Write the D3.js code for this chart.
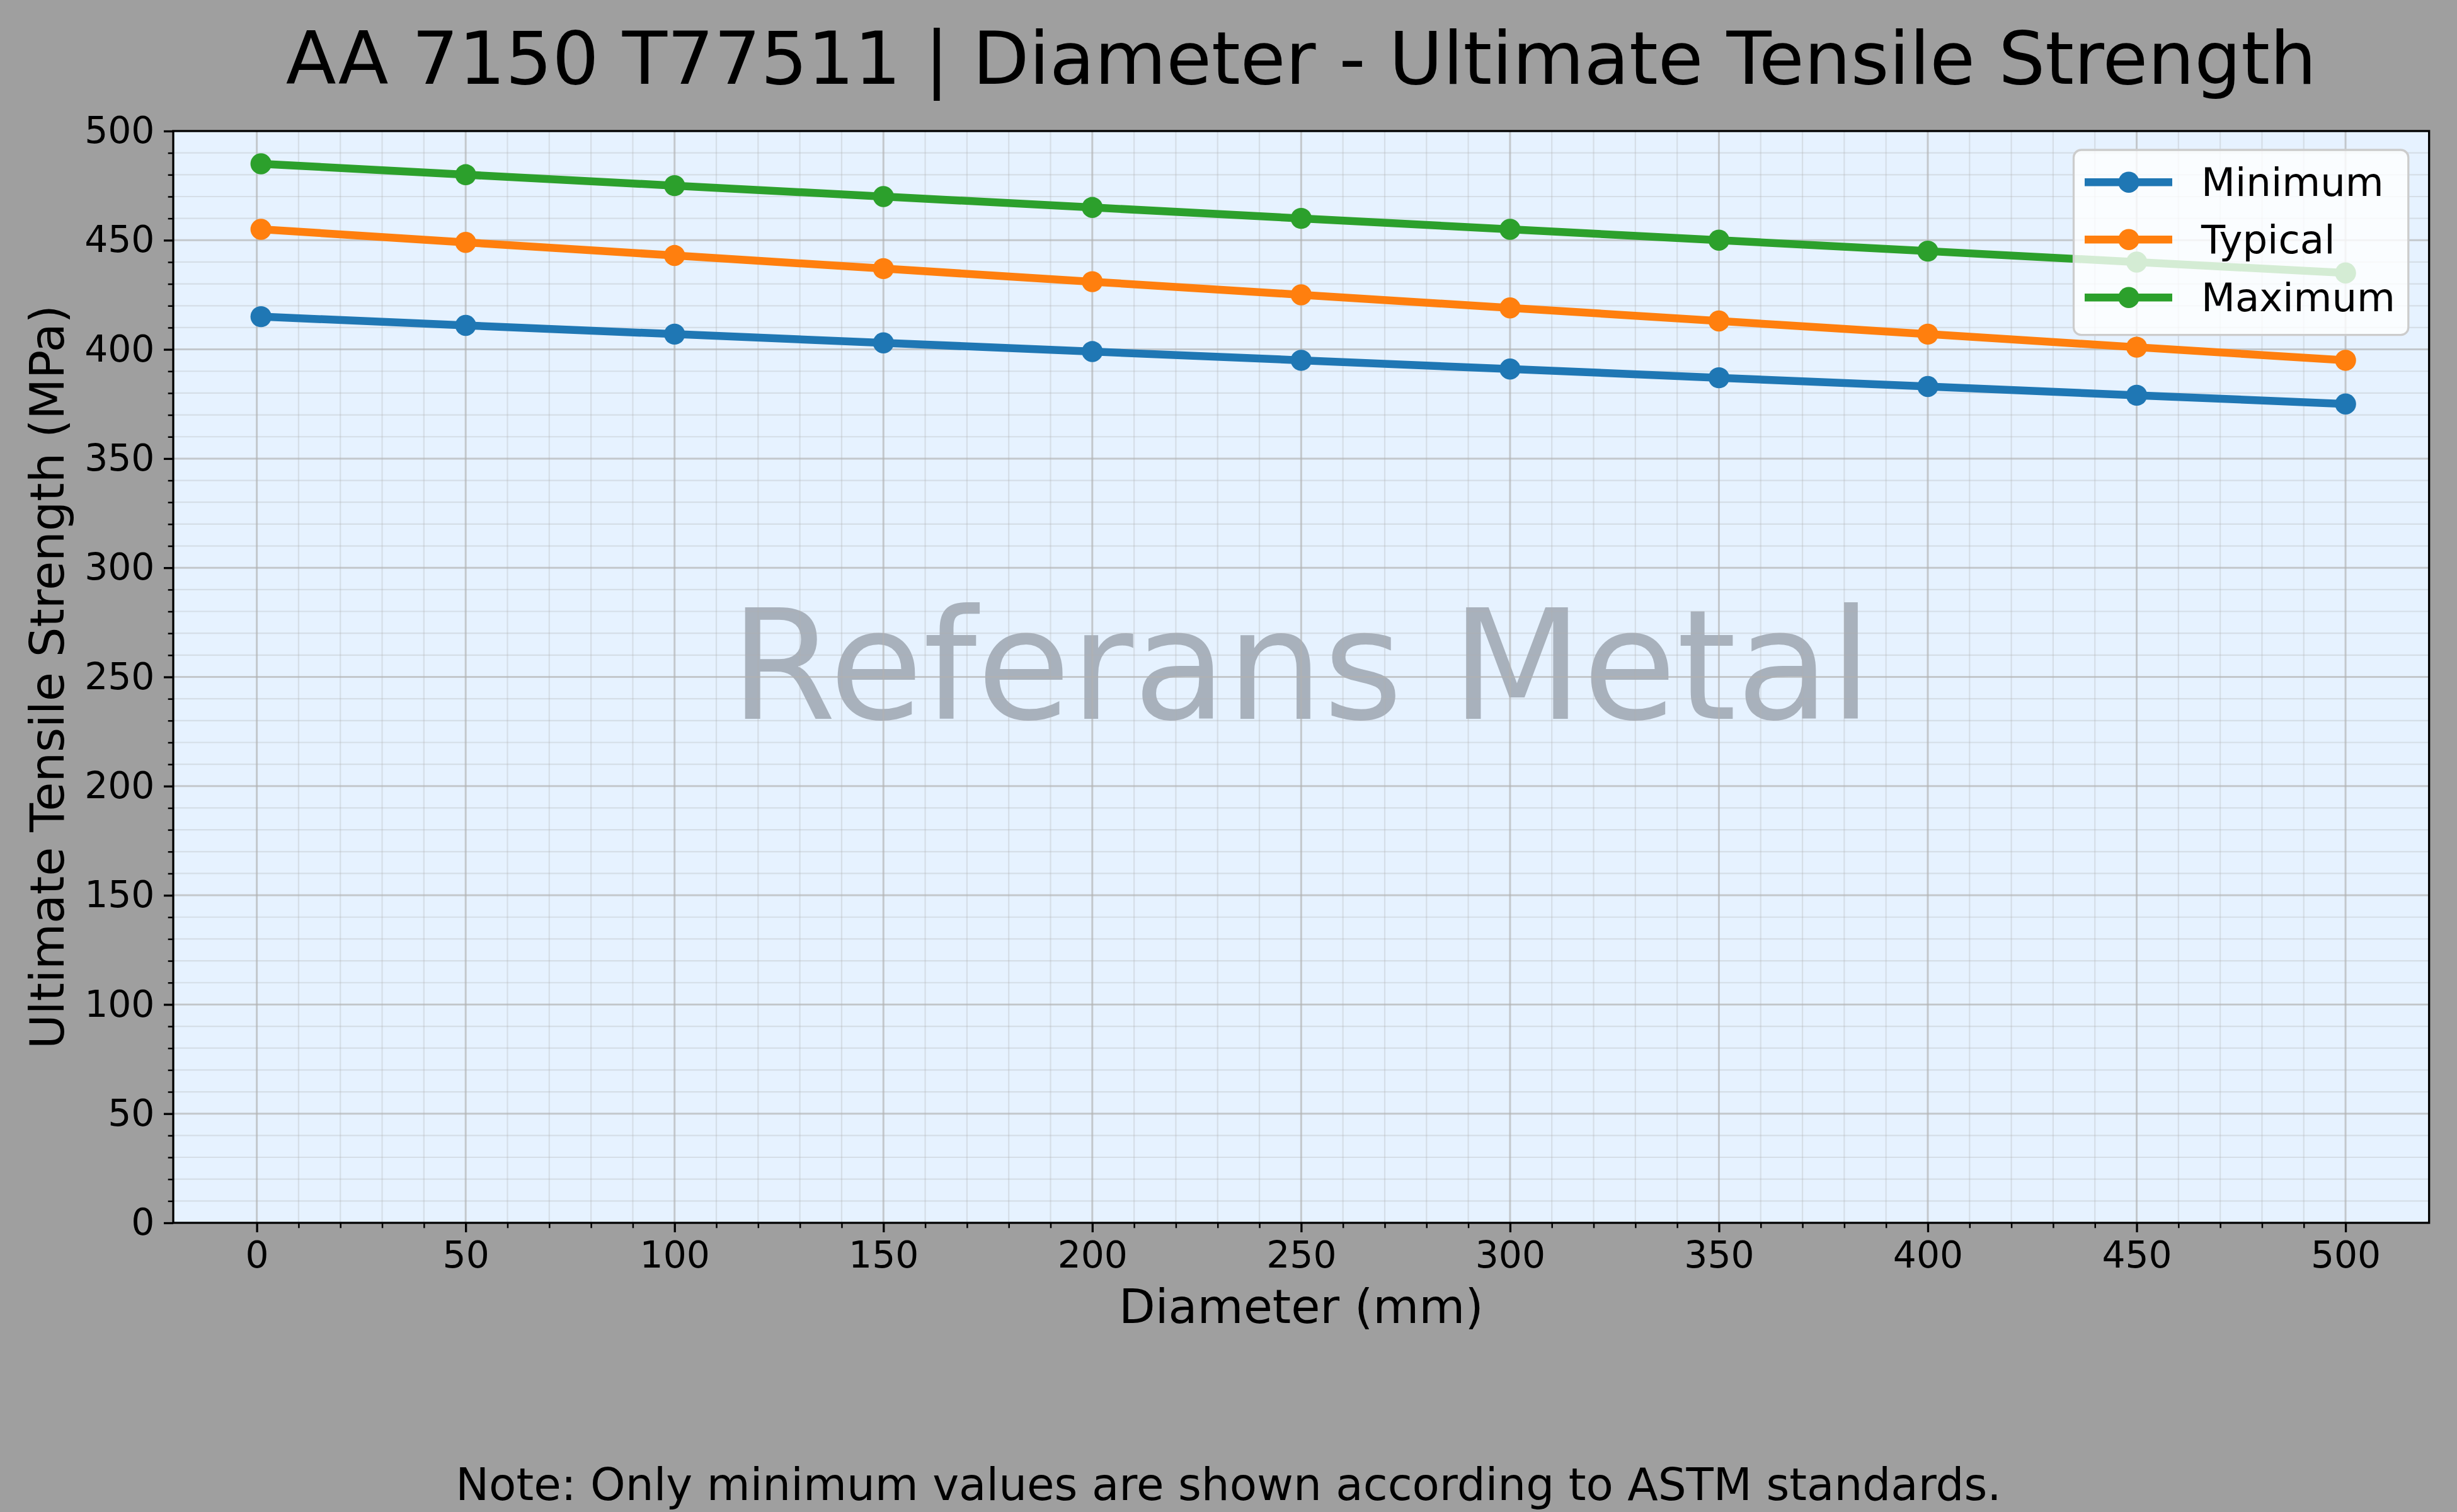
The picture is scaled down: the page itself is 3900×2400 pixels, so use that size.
<!DOCTYPE html>
<html>
<head>
<meta charset="utf-8">
<script src="https://cdn.jsdelivr.net/npm/d3@7"></script>
<style>
  html, body { margin: 0; padding: 0; background: #9f9f9f; }
  svg { display: block; }
  text { font-family: "DejaVu Sans", sans-serif; }
</style>
</head>
<body>
<script>
// ---------- data ----------
const diameters = [1, 50, 100, 150, 200, 250, 300, 350, 400, 450, 500];
const minimumUTS = [415, 411, 407, 403, 399, 395, 391, 387, 383, 379, 375];
const typicalUTS = [455, 449, 443, 437, 431, 425, 419, 413, 407, 401, 395];
const maximumUTS = [485, 480, 475, 470, 465, 460, 455, 450, 445, 440, 435];
const seriesNames = ["Minimum", "Typical", "Maximum"];
const xTickValues = [0, 50, 100, 150, 200, 250, 300, 350, 400, 450, 500];
const yTickValues = [0, 50, 100, 150, 200, 250, 300, 350, 400, 450, 500];
const titleText = "AA 7150 T77511 | Diameter - Ultimate Tensile Strength";
const xLabelText = "Diameter (mm)";
const yLabelText = "Ultimate Tensile Strength (MPa)";
const watermarkText = "Referans Metal";
const noteText = "Note: Only minimum values are shown according to ASTM standards.";

// ---------- layout ----------
const W = 3900, H = 2400;
const plot = { left: 275, right: 3855.7, top: 208, bottom: 1941 };
const colors = ["#1f77b4", "#ff7f0e", "#2ca02c"];
const seriesValues = [minimumUTS, typicalUTS, maximumUTS];

const svg = d3.select("body").append("svg").attr("width", W).attr("height", H);
svg.append("rect").attr("width", W).attr("height", H).attr("fill", "#9f9f9f");

const x = d3.scaleLinear().domain([-20, 520]).range([plot.left, plot.right]);
const y = d3.scaleLinear().domain([0, 500]).range([plot.bottom, plot.top]);

const xMinor = d3.range(10, 500, 10).filter(v => v % 50 !== 0);
const yMinor = d3.range(10, 500, 10).filter(v => v % 50 !== 0);

// axes background
svg.append("rect")
  .attr("x", plot.left).attr("y", plot.top)
  .attr("width", plot.right - plot.left).attr("height", plot.bottom - plot.top)
  .attr("fill", "#e6f2ff");

// watermark
svg.append("text")
  .attr("x", (plot.left + plot.right) / 2)
  .attr("y", 1141)
  .attr("text-anchor", "middle")
  .attr("font-size", 242)
  .attr("fill", "#7f8590")
  .attr("fill-opacity", 0.6)
  .text(watermarkText);

// grid
const grid = svg.append("g");
grid.selectAll(".gxm").data(xMinor).enter().append("line")
  .attr("x1", d => x(d)).attr("x2", d => x(d))
  .attr("y1", plot.top).attr("y2", plot.bottom)
  .attr("stroke", "#b0b0b0").attr("stroke-opacity", 0.3).attr("stroke-width", 2.2);
grid.selectAll(".gym").data(yMinor).enter().append("line")
  .attr("y1", d => y(d)).attr("y2", d => y(d))
  .attr("x1", plot.left).attr("x2", plot.right)
  .attr("stroke", "#b0b0b0").attr("stroke-opacity", 0.3).attr("stroke-width", 2.2);
grid.selectAll(".gxM").data(xTickValues).enter().append("line")
  .attr("x1", d => x(d)).attr("x2", d => x(d))
  .attr("y1", plot.top).attr("y2", plot.bottom)
  .attr("stroke", "#b0b0b0").attr("stroke-opacity", 0.65).attr("stroke-width", 3);
grid.selectAll(".gyM").data(yTickValues.filter(v => v > 0 && v < 500)).enter().append("line")
  .attr("y1", d => y(d)).attr("y2", d => y(d))
  .attr("x1", plot.left).attr("x2", plot.right)
  .attr("stroke", "#b0b0b0").attr("stroke-opacity", 0.65).attr("stroke-width", 3);

// series
const lineGen = d3.line().x((d, i) => x(diameters[i])).y(d => y(d));
seriesValues.forEach((vals, s) => {
  svg.append("path").datum(vals)
    .attr("d", lineGen)
    .attr("fill", "none")
    .attr("stroke", colors[s])
    .attr("stroke-width", 12.5)
    .attr("stroke-linejoin", "round")
    .attr("stroke-linecap", "square");
  svg.append("g").selectAll("circle").data(vals).enter().append("circle")
    .attr("cx", (d, i) => x(diameters[i]))
    .attr("cy", d => y(d))
    .attr("r", 16.7)
    .attr("fill", colors[s]);
});

// spines
svg.append("rect")
  .attr("x", plot.left).attr("y", plot.top)
  .attr("width", plot.right - plot.left).attr("height", plot.bottom - plot.top)
  .attr("fill", "none").attr("stroke", "#000").attr("stroke-width", 3.3);

// axes
function styleAxis(g) {
  g.select(".domain").remove();
  g.selectAll(".tick line").attr("stroke", "#000").attr("stroke-width", 3.3);
  g.selectAll(".tick text").attr("font-family", "DejaVu Sans").attr("font-size", 58.3).attr("fill", "#000");
}
const xAxis = svg.append("g").attr("transform", `translate(0,${plot.bottom})`)
  .call(d3.axisBottom(x).tickValues(xTickValues).tickSize(15).tickPadding(14.6).tickFormat(d3.format("d")));
styleAxis(xAxis);
xAxis.selectAll(".tick text").attr("dy", "0.71em");
const xAxisMinor = svg.append("g").attr("transform", `translate(0,${plot.bottom})`)
  .call(d3.axisBottom(x).tickValues(xMinor).tickSize(8.3).tickFormat(""));
styleAxis(xAxisMinor);
xAxisMinor.selectAll(".tick line").attr("stroke-width", 2.5);

const yAxis = svg.append("g").attr("transform", `translate(${plot.left},0)`)
  .call(d3.axisLeft(y).tickValues(yTickValues).tickSize(15).tickPadding(14.6).tickFormat(d3.format("d")));
styleAxis(yAxis);
const yAxisMinor = svg.append("g").attr("transform", `translate(${plot.left},0)`)
  .call(d3.axisLeft(y).tickValues(yMinor).tickSize(8.3).tickFormat(""));
styleAxis(yAxisMinor);
yAxisMinor.selectAll(".tick line").attr("stroke-width", 2.5);

// legend
const leg = svg.append("g");
const legBox = { x: 3291.5, y: 238, w: 531.3, h: 293.7 };
leg.append("rect")
  .attr("x", legBox.x).attr("y", legBox.y).attr("width", legBox.w).attr("height", legBox.h)
  .attr("rx", 12).attr("ry", 12)
  .attr("fill", "#ffffff").attr("fill-opacity", 0.8)
  .attr("stroke", "#cccccc").attr("stroke-width", 3.3);
const legRows = [289.3, 380.3, 472.3];
seriesNames.forEach((name, s) => {
  const cy = legRows[s];
  leg.append("line").attr("x1", 3309).attr("x2", 3448).attr("y1", cy).attr("y2", cy)
    .attr("stroke", colors[s]).attr("stroke-width", 12.5);
  leg.append("circle").attr("cx", 3379).attr("cy", cy).attr("r", 16.7).attr("fill", colors[s]);
  leg.append("text").attr("x", 3494).attr("y", cy + 22)
    .attr("font-size", 62.5).attr("fill", "#000").text(name);
});

// title & labels
svg.append("text").attr("x", (plot.left + plot.right) / 2).attr("y", 133)
  .attr("text-anchor", "middle").attr("font-size", 116.7).attr("fill", "#000").text(titleText);
svg.append("text").attr("x", (plot.left + plot.right) / 2).attr("y", 2100)
  .attr("text-anchor", "middle").attr("font-size", 75).attr("fill", "#000").text(xLabelText);
svg.append("text")
  .attr("transform", `translate(101,${(plot.top + plot.bottom) / 2}) rotate(-90)`)
  .attr("text-anchor", "middle").attr("font-size", 75).attr("fill", "#000").text(yLabelText);
svg.append("text").attr("x", W / 2).attr("y", 2381)
  .attr("text-anchor", "middle").attr("font-size", 70.8).attr("fill", "#000").text(noteText);
</script>
</body>
</html>
